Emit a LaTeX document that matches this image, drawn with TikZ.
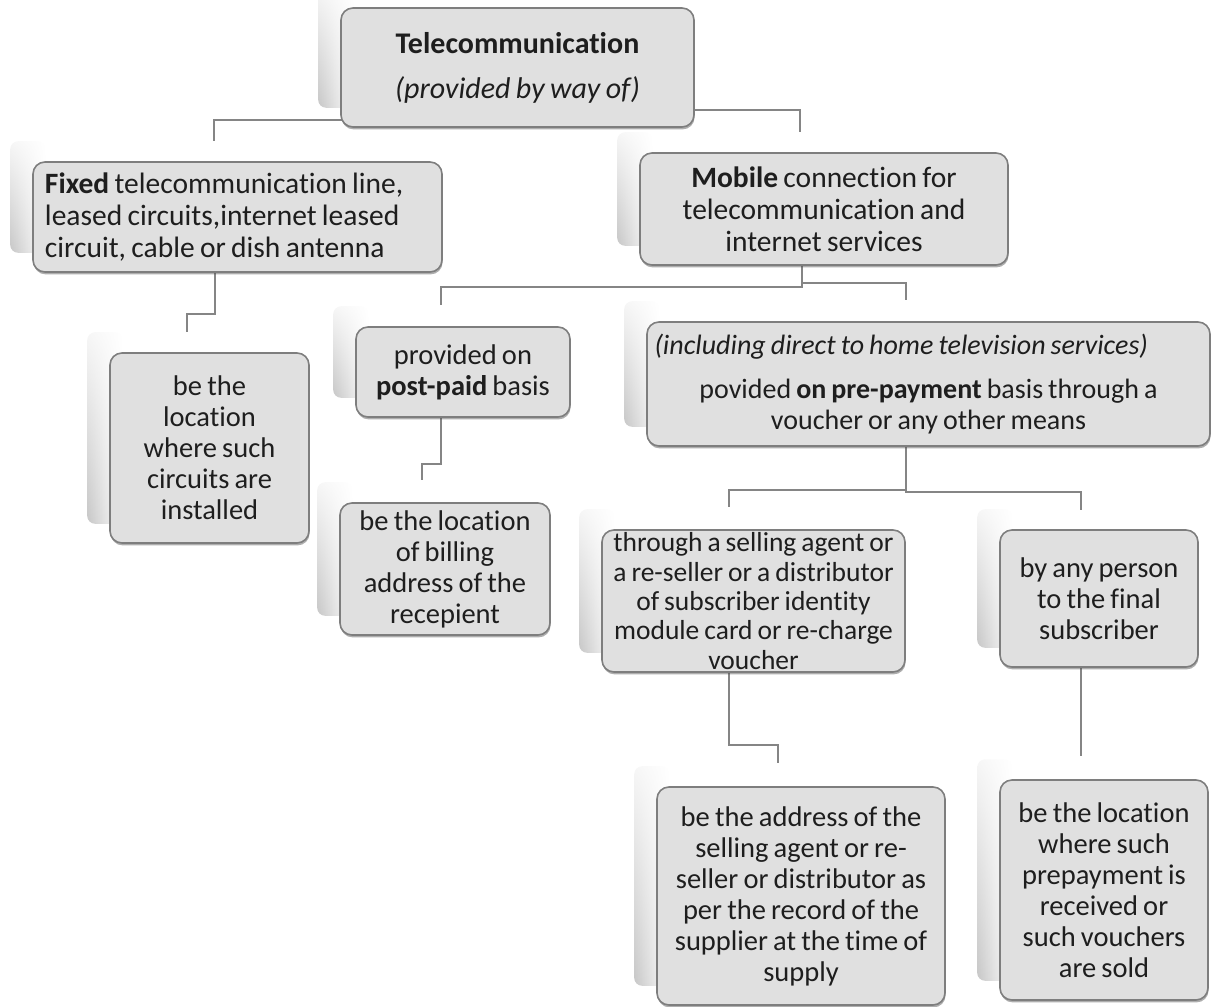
\documentclass[tikz,border=0pt]{standalone}
\usepackage{fontspec}
\setmainfont{Carlito}[Ligatures=NoCommon, WordSpace=0.8]
\usetikzlibrary{shadows,fadings}
\definecolor{boxfill}{HTML}{E0E0E0}
\definecolor{boxline}{HTML}{7E7E7E}
\definecolor{lnc}{HTML}{858585}
\definecolor{txt}{HTML}{1E1E1E}
\newcommand{\bodyfont}{\fontsize{28.5}{31}\selectfont}
\newcommand{\bigfont}{\fontsize{29.5}{32}\selectfont}
\newcommand{\smallfont}{\fontsize{27.5}{29.3}\selectfont}
\tikzfading[name=fadetop, top color=transparent!85, bottom color=transparent!0]
\pgfdeclarelayer{background}
\pgfsetlayers{background,main}
\newcommand{\backshade}[1]{%
  \shade[left color=black!22, right color=white, rounded corners=8pt, path fading=fadetop]
    ([xshift=-22pt,yshift=20pt]#1.north west) rectangle ([xshift=14pt,yshift=20pt]#1.south west);
}
\tikzset{
  box/.style={draw=boxline, line width=1.6pt, fill=boxfill, rounded corners=12pt,
    text=txt, font=\bodyfont, align=flush center, inner sep=0pt,
    drop shadow={shadow xshift=0.6pt, shadow yshift=-2.4pt, opacity=0.45, fill=black!70}},
  conn/.style={draw=lnc, line width=2.4pt},
}
\begin{document}
\begin{tikzpicture}[x=1pt,y=-1pt]
\useasboundingbox (0,0) rectangle (1211,1007);

\node[box, minimum width=353pt, minimum height=119pt, font=\fontsize{30}{33}\selectfont] (tel) at (517.5,67.5)
  {\textbf{Telecommunication}\\[12pt]\textit{(provided by way of)}};
\node[box, minimum width=409pt, minimum height=110pt, font=\bigfont, align=flush left, text width=385pt] (fix) at (237.5,217)
  {\textbf{Fixed} telecommunication line,\\ leased circuits,internet leased\\ circuit, cable or dish antenna};
\node[box, minimum width=368pt, minimum height=112pt, font=\bigfont] (mob) at (824,209)
  {\textbf{Mobile} connection for\\ telecommunication and\\ internet services};
\node[box, minimum width=199pt, minimum height=190pt] (loc1) at (209.5,448)
  {be the\\ location\\ where such\\ circuits are\\ installed};
\node[box, minimum width=214pt, minimum height=90pt] (post) at (463,372)
  {provided on\\ \textbf{post-paid} basis};
\node[box, minimum width=210pt, minimum height=132pt] (bill) at (445,569)
  {be the location\\ of billing\\ address of the\\ recepient};
\node[box, minimum width=563pt, minimum height=124pt, text width=540pt, font=\fontsize{28}{30.5}\selectfont] (pre) at (928.5,384)
  {\makebox[540pt][l]{\hspace*{-4pt}\textit{(including direct to home television services)}}\\[14pt]
   povided \textbf{on pre-payment} basis through a\\ voucher or any other means};
\node[box, minimum width=303pt, minimum height=142pt, font=\smallfont] (sell) at (753.5,601)
  {through a selling agent or\\ a re-seller or a distributor\\ of subscriber identity\\ module card or re-charge\\ voucher};
\node[box, minimum width=198pt, minimum height=137pt] (any) at (1099,598.5)
  {by any person\\ to the final\\ subscriber};
\node[box, minimum width=288pt, minimum height=218pt] (addr) at (801,896)
  {be the address of the\\ selling agent or re-\\ seller or distributor as\\ per the record of the\\ supplier at the time of\\ supply};
\node[box, minimum width=208pt, minimum height=220pt] (loc2) at (1104,890)
  {be the location\\ where such\\ prepayment is\\ received or\\ such vouchers\\ are sold};

\coordinate (e1) at (214,141);
\coordinate (e2) at (800,132);
\coordinate (e3) at (187,332);
\coordinate (e4) at (441,305);
\coordinate (e5) at (906,300);
\coordinate (e6) at (422,480);
\coordinate (e7) at (729,507);
\coordinate (e8) at (1081,510);
\coordinate (e9) at (778,763);
\coordinate (e10) at (1081,756);

\begin{pgfonlayer}{background}
  \foreach \n in {tel,fix,mob,loc1,post,bill,pre,sell,any,addr,loc2}{\backshade{\n}}
  \draw[conn] (tel.center |- 0,120) -| (e1);
  \draw[conn] (tel.center |- 0,110) -| (e2);
  \draw[conn] (fix.south -| 215,0) -- ++(0,41) -| (e3);
  \draw[conn] (mob.south -| 802,0) -- ++(0,21) -| (e4);
  \draw[conn] (mob.south -| 802,0) -- ++(0,17) -| (e5);
  \draw[conn] (post.south -| 441,0) -- ++(0,46) -| (e6);
  \draw[conn] (pre.south -| 906,0) -- ++(0,43) -| (e7);
  \draw[conn] (pre.south -| 906,0) -- ++(0,45) -| (e8);
  \draw[conn] (sell.south -| 729,0) -- ++(0,72) -| (e9);
  \draw[conn] (any.south -| 1081,0) -- (e10);
\end{pgfonlayer}
\end{tikzpicture}
\end{document}
